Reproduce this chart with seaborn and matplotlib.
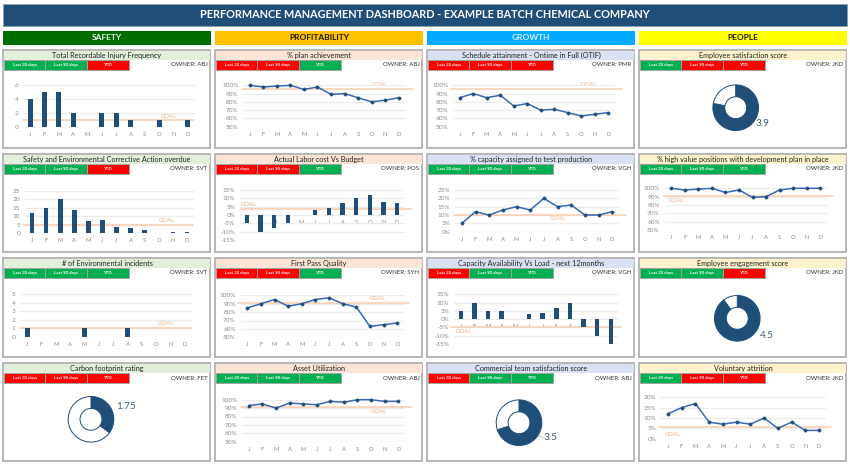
import numpy as np
import matplotlib
matplotlib.use("Agg")
import matplotlib.pyplot as plt
from matplotlib.patches import Rectangle
import seaborn as sb

months = ["J", "F", "M", "A", "M", "J", "J", "A", "S", "O", "N", "D"]

injury_freq = [4, 5, 5, 2, 0, 2, 2, 1, 0, 1, 0, 1]
corrective_actions = [12, 15, 20, 14, 7, 8, 4, 3, 2, 0, 1, 1]
env_incidents = [1, 0, 0, 0, 1, 0, 0, 1, 0, 0, 0, 0]
plan_achievement = [100, 98, 99, 100, 95, 98, 89, 90, 85, 80, 82, 85]
labor_cost = [-5, -10, -8, -5, 0, 3, 4, 7, 10, 12, 8, 7]
first_pass = [85, 90, 95, 87, 90, 95, 97, 90, 86, 63, 65, 67]
asset_util = [93, 95, 90, 96, 95, 94, 98, 97, 100, 100, 98, 98]
otif = [85, 90, 85, 88, 75, 78, 70, 71, 67, 63, 65, 67]
test_capacity = [5, 12, 10, 13, 15, 13, 20, 15, 16, 10, 10, 12]
capacity_load = [5, 10, 5, 5, 0, 3, 4, 7, 10, -5, -10, -15]
dev_plan = [100, 98, 99, 100, 95, 98, 89, 90, 98, 100, 100, 100]
attrition = [12, 15, 17, 8, 7, 8, 7, 10, 5, 8, 4, 4]

pct_50_100 = [50, 60, 70, 80, 90, 100]
pct_15 = [-15, -10, -5, 0, 5, 10, 15]

sections = ["SAFETY", "PROFITABILITY", "GROWTH", "PEOPLE"]
status_names = ["Last 30 days", "Last 90 days", "YTD"]

# title, owner, status flags, kind, values, goal, y ticks, tick suffix
safety = [
    ("Total Recordable Injury Frequency", "ABJ", "GGR", "bar", injury_freq, 1, [0, 2, 4, 6], ""),
    ("Safety and Environmental Corrective Action overdue", "SVT", "GGR", "bar", corrective_actions, 5, [0, 5, 10, 15, 20, 25], ""),
    ("# of Environmental incidents", "SVT", "GGG", "bar", env_incidents, 1, [0, 1, 2, 3, 4, 5], ""),
    ("Carbon footprint rating", "FET", "RRR", "donut", 1.75, None, None, ""),
]
profitability = [
    ("% plan achievement", "ABJ", "RRG", "line", plan_achievement, 96, pct_50_100, "%"),
    ("Actual Labor cost Vs Budget", "POS", "RRG", "bar", labor_cost, 3.6, pct_15, "%"),
    ("First Pass Quality", "SYH", "RRG", "line", first_pass, 91, pct_50_100, "%"),
    ("Asset Utilization", "ABJ", "GGG", "line", asset_util, 91, pct_50_100, "%"),
]
growth = [
    ("Schedule attainment - Ontime in Full (OTIF)", "PMR", "RRR", "line", otif, 96, pct_50_100, "%"),
    ("% capacity assigned to test production", "VGH", "GGG", "line", test_capacity, 10, [0, 5, 10, 15, 20, 25], "%"),
    ("Capacity Availability Vs Load - next 12months", "VGH", "RGG", "bar", capacity_load, -4.5, pct_15, "%"),
    ("Commercial team satisfaction score", "ABJ", "RGG", "donut", 3.5, None, None, ""),
]
people = [
    ("Employee satisfaction score", "JKD", "GRR", "donut", 3.9, None, None, ""),
    ("% high value positions with development plan in place", "JKD", "GGG", "line", dev_plan, 91, pct_50_100, "%"),
    ("Employee engagement score", "JKD", "GGR", "donut", 4.5, None, None, ""),
    ("Voluntary attrition", "JKD", "GRR", "line", attrition, 5.8, [0, 5, 10, 15, 20], "%"),
]
columns = [safety, profitability, growth, people]

# pixel layout
W, H = 850, 466
col_x = [(3.5, 210.5), (215.5, 422.5), (427.5, 634.5), (639.5, 846.5)]
row_y = [(50, 148), (154, 252), (258, 357), (363, 461)]

# x0, x1, ytop, ybottom of gridlines, goal line x0, x1, goal label x, y
plot_box = {
    (0, 0): (23, 195, 85, 126.7, 23, 194, 169, 116),
    (0, 1): (25, 194, 191, 233.3, 22.7, 193, 167, 220.7),
    (0, 2): (20, 192, 294.3, 337, 20, 192, 166, 323.7),
    (1, 0): (243, 405.5, 85.3, 126.7, 241.7, 412.7, 380, 84.3),
    (1, 1): (240, 404, 190, 240, 240, 410.7, 249, 204.3),
    (1, 2): (240.5, 404, 295.3, 337.3, 238, 409, 378, 298.7),
    (1, 3): (242, 405, 399.7, 441.7, 241, 411.7, 379, 411.7),
    (2, 0): (453, 615, 85.3, 126.7, 451, 622, 589, 84.5),
    (2, 1): (455, 619, 190, 231.7, 454, 626, 558, 218),
    (2, 2): (454, 617.7, 294.3, 344, 451, 621, 464, 331.7),
    (3, 1): (664.5, 827, 188.3, 230, 662.7, 833, 675.7, 201),
    (3, 3): (661, 826, 397.3, 438.7, 659, 830.7, 673, 434),
}
# centre x, y, value label x, y
donut_box = {
    (0, 3): (91, 419.3, 125.7, 406.7),
    (2, 3): (519, 422.7, 551, 438),
    (3, 0): (735.7, 107.7, 762, 123.7),
    (3, 2): (737.3, 318.3, 766.7, 335.3),
}
donut_r = 23.5

NAVY = "#1f4e79"
LINE = "#3a68b8"
GOAL = "#f8cdb0"
GOALTXT = "#f2b48a"
GREY = "#8c8c8c"
BORDER = "#a3a3a3"
GRID = "#ececec"
GREEN = "#00b050"
RED = "#ff0000"
section_fill = ["#006f00", "#ffc000", "#00aaff", "#ffff00"]
section_text = ["#e8f5e8", "#1a1a1a", "#d8eefc", "#1a1a1a"]
head_fill = ["#e2efda", "#fce4d6", "#d9e1f2", "#fff2cc"]

sb.set_theme(style="white")
plt.rcParams["font.family"] = ["Lato", "DejaVu Sans"]

fig = plt.figure(figsize=(W / 100, H / 100), dpi=100, facecolor="white")
bg = fig.add_axes([0, 0, 1, 1])
bg.set_xlim(0, W)
bg.set_ylim(H, 0)
bg.axis("off")


def box(x0, y0, x1, y1, **kw):
    bg.add_patch(Rectangle((x0, y0), x1 - x0, y1 - y0, **kw))


def pxAxes(x0, x1, ytop, ybottom):
    ax = fig.add_axes([x0 / W, 1 - ybottom / H, (x1 - x0) / W, (ybottom - ytop) / H])
    ax.patch.set_alpha(0)
    return ax


def drawChart(key, kind, values, goal, yticks, suffix):
    x0, x1, ytop, ybot, gx0, gx1, lx, ly = plot_box[key]
    ax = pxAxes(x0, x1, ytop, ybot)
    xs = np.arange(12)
    if kind == "bar":
        sb.barplot(x=xs, y=values, ax=ax, color=NAVY, saturation=1, width=0.33,
                   linewidth=0, zorder=3)
    else:
        sb.lineplot(x=xs, y=values, ax=ax, color=LINE, lw=1.1, marker="o", ms=2.4,
                    mec=NAVY, mfc=NAVY, mew=0.3, clip_on=False, zorder=4)
    ax.set_xlim(-0.5, 11.5)
    ax.set_ylim(yticks[0], yticks[-1])
    ax.set_xticks(xs, months)
    ax.set_yticks(yticks, [str(t) + suffix for t in yticks])
    ax.set_xlabel("")
    ax.set_ylabel("")
    for s in ax.spines.values():
        s.set_visible(False)
    # labels sit under the zero line when the axis goes negative
    ax.spines["bottom"].set_position(("data", max(0, yticks[0])))
    ax.grid(axis="y", color=GRID, lw=0.9)
    ax.set_axisbelow(True)
    ax.tick_params(axis="x", length=0, pad=3.6, labelsize=4.2, labelcolor=GREY)
    ax.tick_params(axis="y", length=0, pad=3.4, labelsize=4.6, labelcolor=GREY)
    # goal line runs a little past the gridlines
    sx = (x1 - x0) / 12
    ax.plot([(gx0 - x0) / sx - 0.5, (gx1 - x0) / sx - 0.5], [goal, goal],
            color=GOAL, lw=1.1, clip_on=False, zorder=2)
    bg.text(lx, ly, "GOAL", color=GOALTXT, fontsize=4.3, ha="center", va="center", zorder=6)


def drawDonut(key, value):
    cx, cy, lx, ly = donut_box[key]
    ax = pxAxes(cx - donut_r, cx + donut_r, cy - donut_r, cy + donut_r)
    ax.pie([value, 5 - value], colors=[NAVY, "white"], startangle=90, counterclock=False,
           radius=1, wedgeprops=dict(width=0.52, edgecolor=NAVY, linewidth=0.7))
    ax.set_xlim(-1.03, 1.03)
    ax.set_ylim(-1.03, 1.03)
    bg.text(lx, ly, f"{value:g}", color="#3d5f80", fontsize=7.2, ha="center", va="center")


# banner
box(3, 4, 847, 25.5, fc=NAVY, ec="#8aa0b5", lw=0.6)
bg.text(425, 15, "PERFORMANCE MANAGEMENT DASHBOARD - EXAMPLE BATCH CHEMICAL COMPANY",
        color="white", fontsize=7.8, fontweight="bold", ha="center", va="center")

for c, col in enumerate(columns):
    cx0, cx1 = col_x[c]
    box(cx0 - 0.5, 31, cx1 + 0.5, 44.5, fc=section_fill[c], ec="none")
    bg.text((cx0 + cx1) / 2, 37.5, sections[c], color=section_text[c], fontsize=6,
            fontweight="bold", ha="center", va="center")
    for r, (title, owner, flags, kind, values, goal, yticks, suffix) in enumerate(col):
        ry0, ry1 = row_y[r]
        box(cx0, ry0, cx1, ry1, fc="white", ec=BORDER, lw=1.1, zorder=1)
        box(cx0 + 0.6, ry0 + 0.6, cx1 - 0.6, ry0 + 10, fc=head_fill[c], ec="none", zorder=2)
        bg.text((cx0 + cx1) / 2, ry0 + 5.2, title, color="#222222", fontsize=5.2,
                ha="center", va="center", zorder=3)
        for i, name in enumerate(status_names):
            bx0 = cx0 + 0.3 + i * 41.6
            box(bx0, ry0 + 10, bx0 + 41.6, ry0 + 19.6, ec=BORDER, lw=0.7, zorder=2,
                fc=GREEN if flags[i] == "G" else RED)
            bg.text(bx0 + 20.8, ry0 + 14.8, name, color="white", fontsize=3.2,
                    fontweight="bold", ha="center", va="center", zorder=3)
        bg.text(cx1 - 3, ry0 + 15, "OWNER: " + owner, color="#333333", fontsize=4.4,
                ha="right", va="center", zorder=3)
        if kind == "donut":
            drawDonut((c, r), values)
        else:
            drawChart((c, r), kind, values, goal, yticks, suffix)

# leader line on the commercial team donut
bg.plot([533.5, 543], [433, 438], color="#bfbfbf", lw=0.6, zorder=5)

fig.savefig("out.png", dpi=100, facecolor="white")
